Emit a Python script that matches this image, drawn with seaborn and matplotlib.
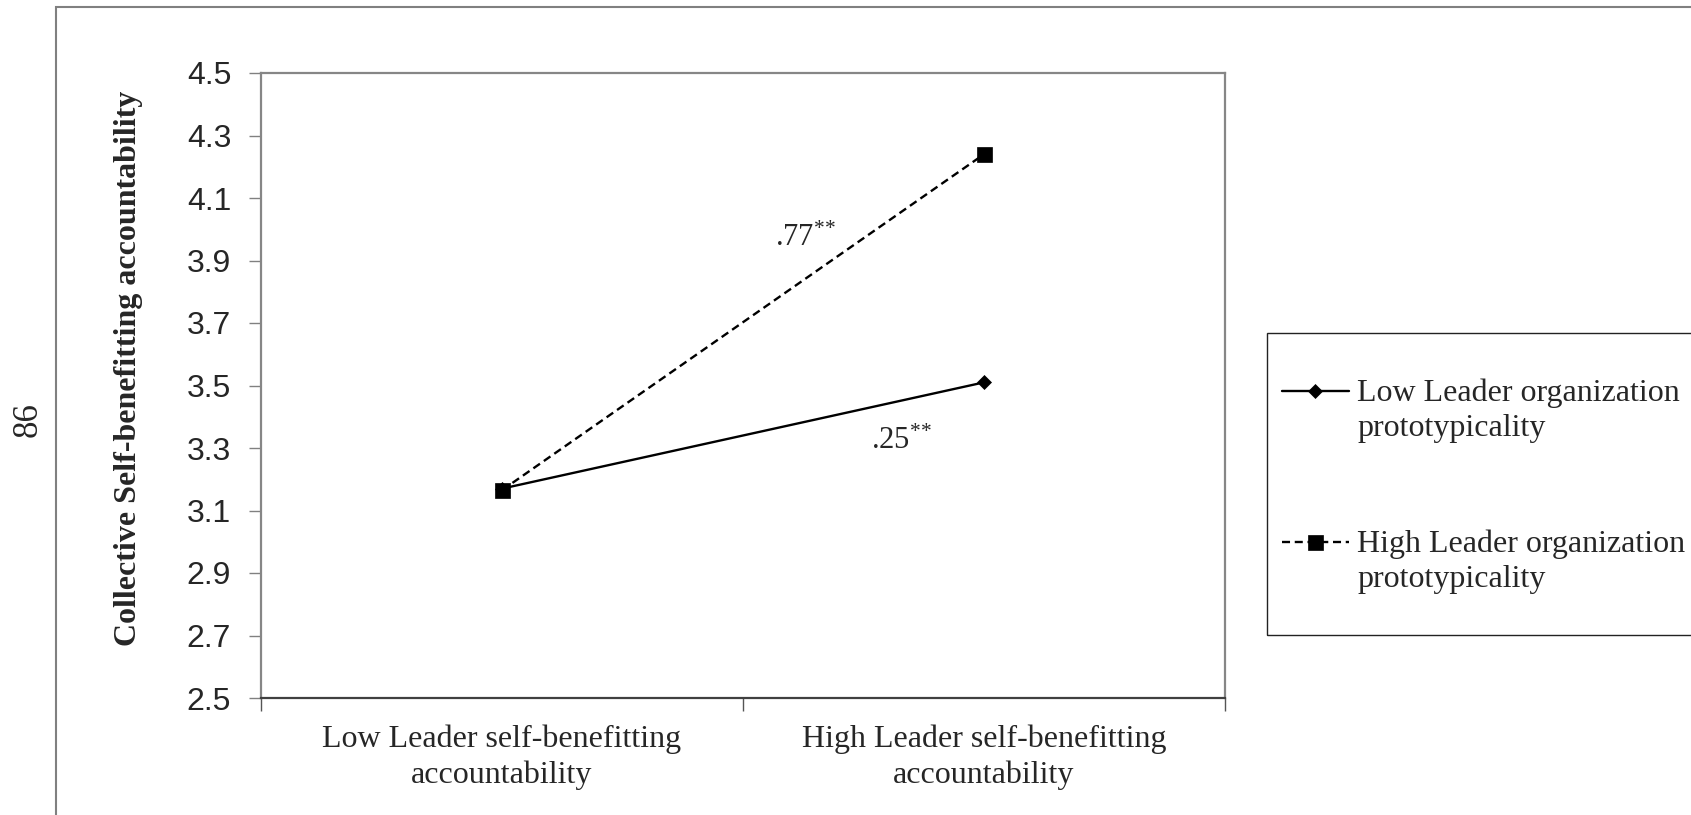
import numpy as np
import pandas as pd
import matplotlib
matplotlib.use("Agg")
import matplotlib.pyplot as plt
import seaborn as sns
from matplotlib.legend_handler import HandlerLine2D
from matplotlib.patches import Rectangle

# ---------------- data ----------------
conditions = ["Low Leader self-benefitting\naccountability",
              "High Leader self-benefitting\naccountability"]
series_names = ["Low Leader organization\nprototypicality",
                "High Leader organization\nprototypicality"]
low_proto = [3.17, 3.51]
high_proto = [3.165, 4.24]
slope_labels = [".77", ".25"]
y_ticks = [2.5, 2.7, 2.9, 3.1, 3.3, 3.5, 3.7, 3.9, 4.1, 4.3, 4.5]
y_label = "Collective Self-benefitting accountability"
page_number = "86"

rows = []
for name, vals in zip(series_names, [low_proto, high_proto]):
    for i, v in enumerate(vals):
        rows.append({"x": i, "y": v, "series": name})
df = pd.DataFrame(rows)

# ---------------- style ----------------
sns.set_theme(style="white")
plt.rcParams["font.family"] = ["Liberation Serif", "DejaVu Sans"]
plt.rcParams["mathtext.default"] = "regular"

W, H = 1691, 815
fig = plt.figure(figsize=(W / 100, H / 100), dpi=100)
ax = fig.add_axes([261 / W, 1 - 698 / H, 964 / W, 625 / H])

sns.lineplot(data=df, x="x", y="y", hue="series", style="series",
             palette={series_names[0]: "black", series_names[1]: "black"},
             markers={series_names[0]: "D", series_names[1]: "s"},
             dashes={series_names[0]: "", series_names[1]: (3.4, 2.0)},
             linewidth=1.7, mec="black", mew=0.5, legend=False, ax=ax)
lines = ax.get_lines()
lines[0].set_markersize(7.5)
lines[1].set_markersize(10.8)

ax.set_xlim(-0.5, 1.5)
ax.set_ylim(2.5, 4.5)
ax.set_xlabel("")
ax.set_ylabel("")

# x axis
ax.set_xticks([0, 1])
ax.set_xticklabels(conditions, fontsize=23, linespacing=1.3)
ax.set_xticks([-0.5, 0.5, 1.5], minor=True)
ax.tick_params(axis="x", which="major", length=0, pad=19)
ax.tick_params(axis="x", which="minor", length=9, width=1, color="#555555",
               direction="out", bottom=True)

# y axis
ax.set_yticks(y_ticks)
ax.set_yticklabels([f"{t:.1f}" for t in y_ticks], fontsize=23,
                   fontfamily="Liberation Sans")
ax.tick_params(axis="y", which="major", length=9, width=1, color="#808080",
               direction="out", left=True, pad=12.5)

for side in ["left", "top", "right"]:
    ax.spines[side].set_color("#868686")
    ax.spines[side].set_linewidth(1.6)
ax.spines["bottom"].set_color("#404040")
ax.spines["bottom"].set_linewidth(1.6)

ax.set_ylabel(y_label, fontsize=23, fontweight="bold", va="center")
ax.yaxis.set_label_coords((129 - 261) / 964, (698 - 368) / 625)

# slope annotations
ax.text(0.566, 3.946, slope_labels[0] + r"$^{{*}{*}}$", fontsize=22,
        ha="left", va="baseline")
ax.text(0.766, 3.296, slope_labels[1] + r"$^{{*}{*}}$", fontsize=22,
        ha="left", va="baseline")

# page number
fig.text(28 / W, 1 - 420 / H, page_number, rotation=90, ha="center",
         va="center", fontsize=25)

# outer frame
fig.add_artist(Rectangle((55.7 / W, -0.05), 1.2, (1 - 7.5 / H) + 0.05,
                         transform=fig.transFigure, fill=False,
                         ec="#808080", lw=1.5, clip_on=False))

# legend box
fig.add_artist(Rectangle((1267 / W, 1 - 635 / H), 1.0, (635 - 333) / H,
                         transform=fig.transFigure, fill=False,
                         ec="#222222", lw=1.0, clip_on=False))


class UpHandler(HandlerLine2D):
    def __init__(self, shift, **kw):
        super().__init__(**kw)
        self.shift = shift

    def create_artists(self, legend, orig_handle, xdescent, ydescent,
                       width, height, fontsize, trans):
        arts = super().create_artists(legend, orig_handle, xdescent, ydescent,
                                      width, height, fontsize, trans)
        for a in arts:
            a.set_ydata(np.asarray(a.get_ydata()) + self.shift * fontsize)
        return arts


leg_fs = 23
leg = fig.legend(handles=lines, labels=series_names,
                 handler_map={lines[0]: UpHandler(0.62, numpoints=1),
                              lines[1]: UpHandler(0.62, numpoints=1)},
                 loc="upper left", bbox_to_anchor=(1282 / W, 1 - 378 / H),
                 frameon=False, fontsize=leg_fs, borderpad=0, borderaxespad=0,
                 handlelength=48 / leg_fs, handletextpad=6 / leg_fs,
                 labelspacing=2.7, numpoints=1)
for t in leg.get_texts():
    t.set_linespacing(1.3)

fig.savefig("out.png", dpi=100)
